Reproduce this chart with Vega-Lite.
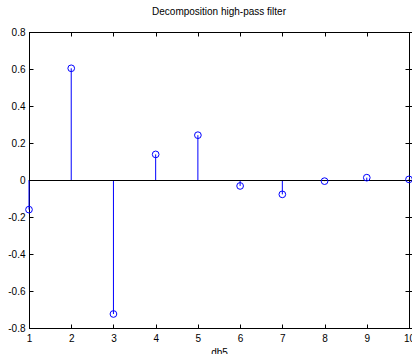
{
  "$schema": "https://vega.github.io/schema/vega-lite/v6.json",
  "width": 380,
  "height": 296,
  "autosize": "none",
  "padding": {"left": 29, "top": 32, "right": 3, "bottom": 26},
  "background": "white",
  "title": {"text": "Decomposition high-pass filter", "fontSize": 10, "fontWeight": "normal", "font": "Liberation Sans", "color": "black", "offset": 10},
  "config": {
    "view": {"stroke": "black", "strokeWidth": 1},
    "axis": {"grid": false, "domainColor": "black", "tickColor": "black", "labelColor": "black", "labelFont": "Liberation Sans", "labelFontSize": 10, "titleFont": "Liberation Sans", "titleFontSize": 10, "titleFontWeight": "normal", "titleColor": "black"}
  },
  "data": {"values": [
    {"n": 1, "v": -0.1601},
    {"n": 2, "v": 0.6038},
    {"n": 3, "v": -0.7243},
    {"n": 4, "v": 0.1384},
    {"n": 5, "v": 0.2423},
    {"n": 6, "v": -0.0322},
    {"n": 7, "v": -0.0776},
    {"n": 8, "v": -0.0062},
    {"n": 9, "v": 0.0126},
    {"n": 10, "v": 0.0033}
  ]},
  "resolve": {"axis": {"x": "independent", "y": "independent"}},
  "layer": [
    {
      "mark": {"type": "rule", "color": "#0000ff", "strokeWidth": 1},
      "encoding": {
        "x": {"field": "n", "type": "quantitative", "scale": {"domain": [1, 10], "nice": false, "zero": false},
              "axis": {"title": "db5", "values": [1,2,3,4,5,6,7,8,9,10], "tickSize": -4, "labelPadding": 9, "labelFlush": false, "titlePadding": 4}},
        "y": {"field": "v", "type": "quantitative", "scale": {"domain": [-0.8, 0.8], "nice": false, "zero": false},
              "axis": {"title": null, "values": [-0.8,-0.6,-0.4,-0.2,0,0.2,0.4,0.6,0.8], "tickSize": -4, "labelPadding": 8, "labelFlush": false,
                       "labelExpr": "datum.value == 0 ? '0' : toString(round(datum.value*10)/10)"}},
        "y2": {"datum": 0}
      }
    },
    {
      "mark": {"type": "rule", "color": "black", "strokeWidth": 1, "yOffset": 0.5},
      "encoding": {"y": {"datum": 0, "type": "quantitative"}}
    },
    {
      "mark": {"type": "point", "shape": "circle", "filled": false, "color": "#0000ff", "size": 45, "strokeWidth": 1, "opacity": 1},
      "encoding": {
        "x": {"field": "n", "type": "quantitative", "axis": {"orient": "top", "labels": false, "title": null, "values": [1,2,3,4,5,6,7,8,9,10], "tickSize": -4, "domain": false}},
        "y": {"field": "v", "type": "quantitative", "axis": {"orient": "right", "labels": false, "title": null, "values": [-0.8,-0.6,-0.4,-0.2,0,0.2,0.4,0.6,0.8], "tickSize": -4, "domain": false}}
      }
    }
  ]
}
